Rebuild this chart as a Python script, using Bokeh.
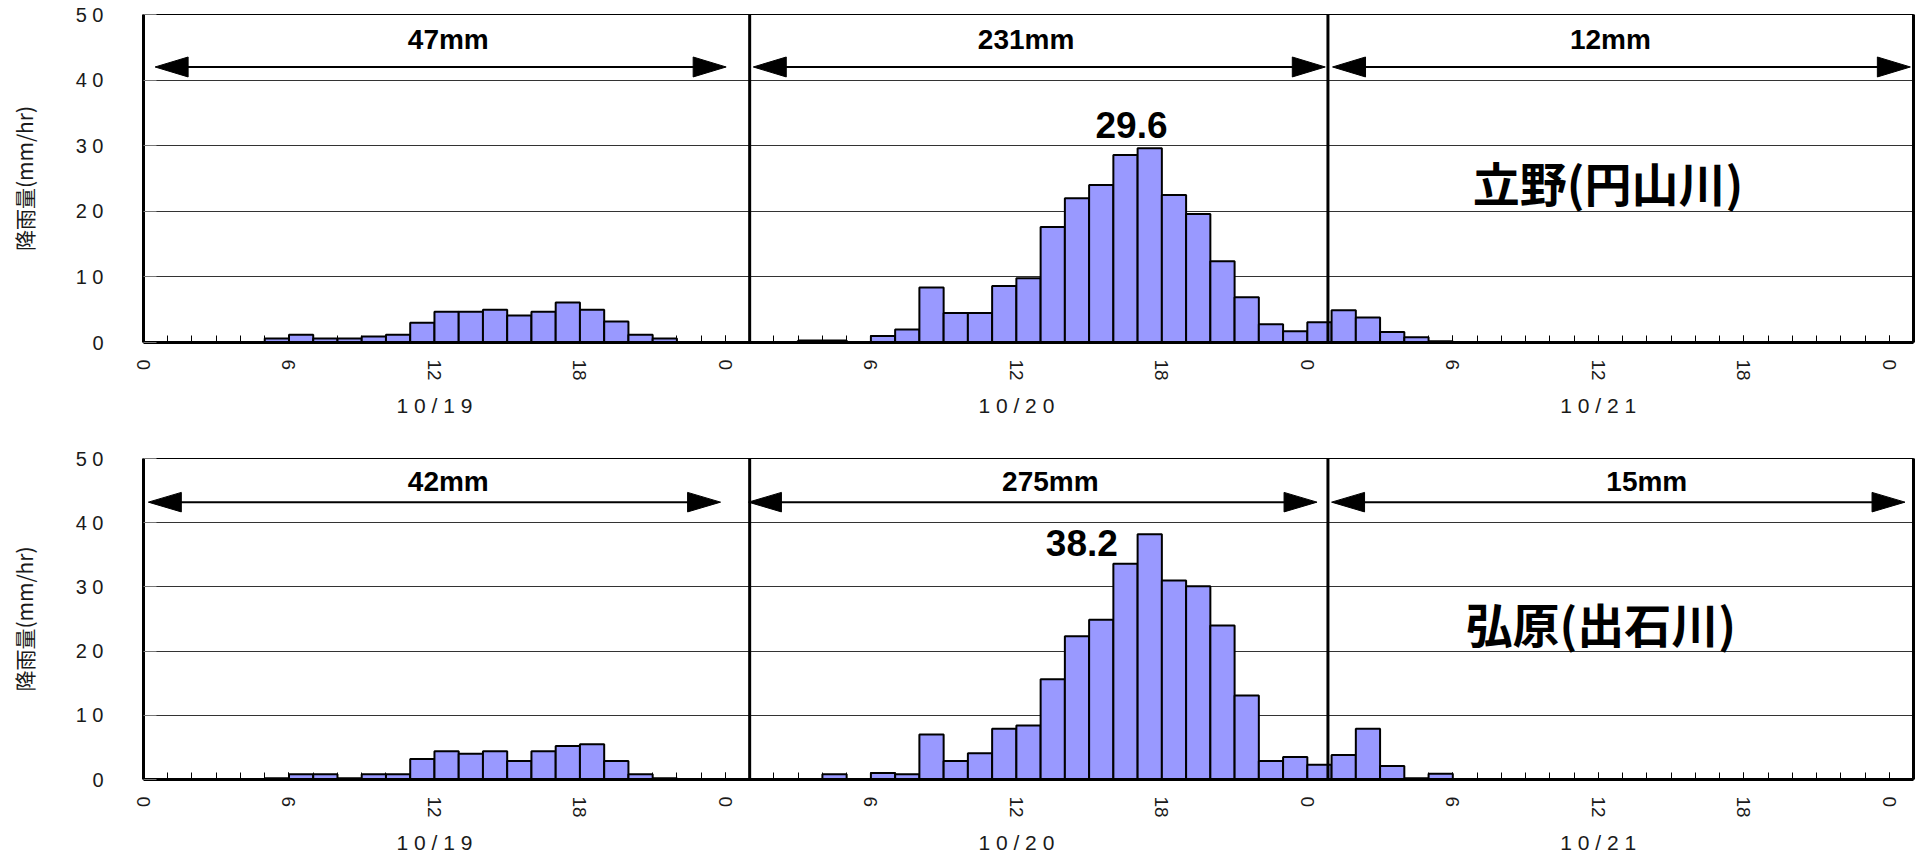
from bokeh.plotting import figure
from bokeh.layouts import column
from bokeh.models import FixedTicker, LinearAxis, Range1d, ColumnDataSource
from bokeh.core.properties import value
from bokeh.embed import file_html
from bokeh.resources import INLINE

# ---------------- data ----------------
hours = list(range(73))  # hour index from 10/19 0:00

# 立野(円山川) hourly rainfall (mm/hr), bar i spans hour i..i+1
tateno = [0, 0, 0, 0, 0, 0.6, 1.2, 0.6, 0.6, 0.9, 1.2, 3.0, 4.7, 4.7, 5.0, 4.1, 4.7, 6.1, 5.0, 3.2, 1.2, 0.6, 0, 0,
          0, 0, 0, 0.3, 0.3, 0, 1.0, 2.0, 8.4, 4.5, 4.5, 8.6, 9.8, 17.6, 22.0, 24.0, 28.6, 29.6, 22.5, 19.6, 12.4, 6.9, 2.8, 1.7,
          3.1, 4.9, 3.8, 1.6, 0.8, 0.2, 0, 0, 0, 0, 0, 0, 0, 0, 0, 0, 0, 0, 0, 0, 0, 0, 0, 0, 0]

# 弘原(出石川) hourly rainfall (mm/hr)
hirohara = [0, 0, 0, 0, 0, 0.2, 0.8, 0.8, 0.2, 0.8, 0.8, 3.2, 4.4, 4.0, 4.4, 2.9, 4.4, 5.2, 5.5, 2.9, 0.8, 0.2, 0, 0,
            0, 0, 0, 0, 0.8, 0, 1.0, 0.8, 7.0, 2.9, 4.1, 7.9, 8.4, 15.6, 22.3, 24.9, 33.6, 38.2, 31.0, 30.1, 24.0, 13.1, 2.9, 3.5,
            2.3, 3.8, 7.9, 2.1, 0.2, 0.9, 0, 0, 0, 0, 0, 0, 0, 0, 0, 0, 0, 0, 0, 0, 0, 0, 0, 0, 0]

tateno_totals = [47, 231, 12]
hirohara_totals = [42, 275, 15]
station_names = ["立野(円山川)", "弘原(出石川)"]

tick_hours = [0, 6, 12, 18, 24, 30, 36, 42, 48, 54, 60, 66, 72]
tick_labels = ["0", "6", "12", "18", "0", "6", "12", "18", "0", "6", "12", "18", "0"]
y_ticks = [0, 10, 20, 30, 40, 50]
y_tick_labels = ["0", "1 0", "2 0", "3 0", "4 0", "5 0"]
day_centers = [12, 36, 60]
day_labels = ["1 0 / 1 9", "1 0 / 2 0", "1 0 / 2 1"]
day_separators = [25.0, 48.85]

# ---------------- annotation placement ----------------
NUM_FONT = "Liberation Sans"
CJK_FONT = "Noto Sans CJK JP"
HEAD_L = 1.36   # arrow head length (hours)
HEAD_H = 1.52   # arrow head half height (mm/hr)


def make_panel(vals, totals, station, arrow_y, a_start, a_end, tot_x, tot_y, peak_xy, station_xy,
               height, border_top, border_bottom):
    p = figure(width=1924, height=height, x_range=Range1d(0, 73.0), y_range=Range1d(0, 50),
               output_backend="svg", toolbar_location=None,
               min_border_left=143, min_border_right=11,
               min_border_top=border_top, min_border_bottom=border_bottom)
    p.background_fill_color = "white"
    p.border_fill_color = "white"
    p.outline_line_color = "black"
    p.outline_line_width = 1
    p.xgrid.visible = False
    p.ygrid.ticker = FixedTicker(ticks=y_ticks)
    p.ygrid.grid_line_color = "#333333"
    p.ygrid.grid_line_width = 1

    # bars
    bl = [h for h, v in zip(hours, vals) if v > 0]
    bt = [v for v in vals if v > 0]
    src = ColumnDataSource(dict(left=bl, right=[h + 1 for h in bl], top=bt))
    p.quad(left="left", right="right", bottom=0, top="top", source=src,
           fill_color="#9999FF", line_color="black", line_width=2)

    # day separators
    p.segment(x0=day_separators, y0=[0] * len(day_separators), x1=day_separators,
              y1=[50] * len(day_separators), line_color="black", line_width=3)

    # arrows
    n = len(a_start)
    p.segment(x0=[s + HEAD_L / 2 for s in a_start], y0=[arrow_y] * n,
              x1=[e - HEAD_L / 2 for e in a_end], y1=[arrow_y] * n,
              line_color="black", line_width=2)
    xs = [[s, s + HEAD_L, s + HEAD_L] for s in a_start] + [[e, e - HEAD_L, e - HEAD_L] for e in a_end]
    ys = [[arrow_y, arrow_y + HEAD_H, arrow_y - HEAD_H] for _ in range(2 * n)]
    p.patches(xs=xs, ys=ys, fill_color="black", line_color="black", line_width=1)

    # totals
    p.text(x=tot_x, y=[tot_y] * n, text=[f"{t}mm" for t in totals],
           text_font=value(NUM_FONT), text_font_style="bold", text_font_size="28px",
           text_align="center", text_baseline="middle", text_color="black")

    # peak label
    peak = max(vals)
    p.text(x=[peak_xy[0]], y=[peak_xy[1]], text=[f"{peak:.1f}"],
           text_font=value(NUM_FONT), text_font_style="bold", text_font_size="37px",
           text_align="center", text_baseline="middle", text_color="black")

    # station name
    p.text(x=[station_xy[0]], y=[station_xy[1]], text=[station],
           text_font=value(CJK_FONT), text_font_style="bold", text_font_size="47px",
           text_align="center", text_baseline="middle", text_color="black")

    # x axis (hours)
    xa = p.xaxis[0]
    xa.ticker = FixedTicker(ticks=tick_hours, minor_ticks=hours)
    xa.major_label_overrides = {h: l for h, l in zip(tick_hours, tick_labels)}
    xa.major_label_orientation = "vertical"
    xa.axis_line_width = 3
    xa.axis_line_color = "black"
    xa.major_tick_in = 7
    xa.major_tick_out = 0
    xa.minor_tick_in = 7
    xa.minor_tick_out = 0
    xa.major_tick_line_color = "black"
    xa.minor_tick_line_color = "black"
    xa.major_label_standoff = 17
    xa.major_label_text_font = NUM_FONT
    xa.major_label_text_font_size = "19px"
    xa.major_label_text_color = "#1a1a1a"

    # day axis
    da = LinearAxis(ticker=FixedTicker(ticks=day_centers),
                    major_label_overrides={d: l for d, l in zip(day_centers, day_labels)},
                    axis_line_color=None, major_tick_line_color=None, minor_tick_line_color=None,
                    major_label_standoff=4, major_label_text_font=NUM_FONT,
                    major_label_text_font_size="21px", major_label_text_color="#1a1a1a")
    p.add_layout(da, "below")

    # y axis
    ya = p.yaxis[0]
    ya.ticker = FixedTicker(ticks=y_ticks)
    ya.major_label_overrides = {t: l for t, l in zip(y_ticks, y_tick_labels)}
    ya.axis_line_width = 3
    ya.axis_line_color = "black"
    ya.major_tick_in = 13
    ya.major_tick_out = 0
    ya.major_tick_line_color = "#777777"
    ya.minor_tick_line_color = None
    ya.major_label_standoff = 40
    ya.major_label_text_font = NUM_FONT
    ya.major_label_text_font_size = "20px"
    ya.major_label_text_color = "#1a1a1a"
    ya.axis_label = "降雨量(mm/hr)"
    ya.axis_label_text_font = CJK_FONT
    ya.axis_label_text_font_style = "normal"
    ya.axis_label_text_font_size = "21px"
    ya.axis_label_text_color = "#1a1a1a"
    ya.axis_label_standoff = 34

    # right border
    ra = LinearAxis(ticker=FixedTicker(ticks=[]), axis_line_width=3, axis_line_color="black",
                    major_tick_line_color=None, minor_tick_line_color=None,
                    major_label_text_font_size="0px", major_label_standoff=0)
    p.add_layout(ra, "right")
    return p


p1 = make_panel(tateno, tateno_totals, station_names[0], 42.0,
                [0.48, 25.15, 49.04], [24.03, 48.74, 72.87],
                [12.57, 36.4, 60.5], 46.2, (40.75, 33.2), (60.4, 24.5),
                430, 14, 88)
p2 = make_panel(hirohara, hirohara_totals, station_names[1], 43.2,
                [0.2, 24.95, 49.0], [23.8, 48.4, 72.65],
                [12.57, 37.4, 62.0], 46.4, (38.7, 36.9), (60.1, 24.5),
                426, 28, 69)

layout = column(p1, p2, spacing=0)
open("out.html", "w").write(file_html(layout, INLINE))
